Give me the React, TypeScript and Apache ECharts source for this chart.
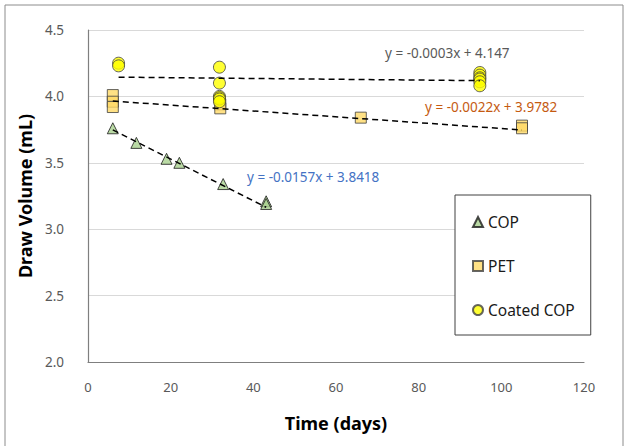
import React, { useEffect, useRef } from "react";
import * as echarts from "echarts";

const seriesNames = ["COP", "PET", "Coated COP"];

const copDays = [6, 11.7, 19, 22.1, 32.7, 43.1, 43.1];
const copVolume = [3.76, 3.65, 3.53, 3.5, 3.34, 3.21, 3.19];

const petDays = [6, 6, 6, 32, 32, 66, 105, 105];
const petVolume = [4.01, 3.96, 3.92, 3.94, 3.91, 3.84, 3.78, 3.76];

const coatedDays = [7.4, 7.4, 31.8, 31.8, 31.8, 31.8, 31.8, 31.8, 94.8, 94.8, 94.8, 94.8, 94.8, 94.8];
const coatedVolume = [4.25, 4.23, 4.22, 4.1, 4.0, 3.99, 3.98, 3.96, 4.18, 4.16, 4.14, 4.13, 4.11, 4.08];

// trendline equations shown on the chart: y = slope * x + intercept
const trendSlopes = [-0.0157, -0.0022, -0.0003];
const trendIntercepts = [3.8418, 3.9782, 4.147];
const trendLabels = ["y = -0.0157x + 3.8418", "y = -0.0022x + 3.9782", "y = -0.0003x + 4.147"];

const xTicks = [0, 20, 40, 60, 80, 100, 120];
const yTicks = [2.0, 2.5, 3.0, 3.5, 4.0, 4.5];

const FONT = "'Noto Sans', 'Open Sans', sans-serif";

function pairs(xs: number[], ys: number[]) {
  return xs.map((x, i) => [x, ys[i]]);
}

function trend(xs: number[], k: number) {
  const lo = Math.min(...xs);
  const hi = Math.max(...xs);
  return [
    [lo, trendSlopes[k] * lo + trendIntercepts[k]],
    [hi, trendSlopes[k] * hi + trendIntercepts[k]],
  ];
}

export default function App() {
  const ref = useRef<HTMLDivElement>(null);
  useEffect(() => {
    if (!ref.current) return;
    const chart = echarts.init(ref.current, undefined, { renderer: "svg" });
    const dashed = {
      type: "line",
      showSymbol: false,
      symbol: "none",
      silent: true,
      z: 5,
      lineStyle: { color: "#000", width: 1.5, type: [6, 4] },
    };
    chart.setOption({
      animation: false,
      backgroundColor: "#fff",
      textStyle: { fontFamily: FONT },
      grid: { left: 88, right: 45, top: 30, bottom: 84, containLabel: false },
      xAxis: {
        type: "value",
        min: xTicks[0],
        max: xTicks[xTicks.length - 1],
        interval: 20,
        name: "Time (days)",
        nameLocation: "middle",
        nameGap: 52,
        nameTextStyle: { fontFamily: FONT, fontSize: 18, fontWeight: "bold", color: "#000" },
        axisLine: { lineStyle: { color: "#7f7f7f", width: 1.2 } },
        axisTick: { show: false },
        splitLine: { show: false },
        axisLabel: { color: "#595959", fontSize: 13, margin: 18, fontFamily: FONT },
      },
      yAxis: {
        type: "value",
        min: yTicks[0],
        max: yTicks[yTicks.length - 1],
        interval: 0.5,
        name: "Draw Volume (mL)",
        nameLocation: "middle",
        nameGap: 49,
        nameTextStyle: { fontFamily: FONT, fontSize: 18, fontWeight: "bold", color: "#000" },
        axisLine: { show: true, lineStyle: { color: "#7f7f7f", width: 1.2 } },
        axisTick: { show: false },
        splitLine: { show: true, lineStyle: { color: "#d9d9d9", width: 1 } },
        axisLabel: {
          color: "#595959",
          fontSize: 13.5,
          margin: 24,
          fontFamily: FONT,
          formatter: (v: number) => v.toFixed(1),
        },
      },
      legend: {
        data: seriesNames,
        orient: "vertical",
        left: 455,
        top: 195,
        backgroundColor: "#fff",
        borderColor: "#404040",
        borderWidth: 1,
        padding: [19, 16, 17, 17],
        itemGap: 28,
        itemWidth: 10,
        itemHeight: 10,
        textStyle: { fontFamily: FONT, fontSize: 15.5, color: "#1a1a1a" },
      },
      graphic: [
        {
          type: "rect",
          shape: { x: 5, y: 5, width: 618, height: 450 },
          style: { fill: "none", stroke: "#8c8c8c", lineWidth: 1 },
          silent: true,
        },
        {
          type: "text",
          left: 247,
          top: 170,
          style: { text: trendLabels[0], fill: "#4472c4", fontSize: 13.5, fontFamily: FONT },
        },
        {
          type: "text",
          left: 425,
          top: 100,
          style: { text: trendLabels[1], fill: "#c55a11", fontSize: 13.5, fontFamily: FONT },
        },
        {
          type: "text",
          left: 385,
          top: 46,
          style: { text: trendLabels[2], fill: "#595959", fontSize: 13.5, fontFamily: FONT },
        },
      ],
      series: [
        {
          name: seriesNames[0],
          type: "scatter",
          symbol: "triangle",
          symbolSize: 11,
          data: pairs(copDays, copVolume),
          itemStyle: { color: "#a9d18e", borderColor: "#1a1a1a", borderWidth: 1 },
          z: 3,
        },
        {
          name: seriesNames[1],
          type: "scatter",
          symbol: "rect",
          symbolSize: 11,
          data: pairs(petDays, petVolume),
          itemStyle: { color: "#ffd966", borderColor: "#404040", borderWidth: 1 },
          z: 3,
        },
        {
          name: seriesNames[2],
          type: "scatter",
          symbol: "circle",
          symbolSize: 12,
          data: pairs(coatedDays, coatedVolume),
          itemStyle: { color: "#ffff00", borderColor: "#404040", borderWidth: 1 },
          z: 4,
        },
        { ...dashed, name: "COP trend", data: trend(copDays, 0) },
        { ...dashed, name: "PET trend", data: trend(petDays, 1) },
        { ...dashed, name: "Coated COP trend", data: trend(coatedDays, 2) },
      ],
    });
    return () => chart.dispose();
  }, []);
  return (
    <div
      ref={ref}
      style={{ position: "fixed", left: 0, top: 0, width: 629, height: 446, background: "#fff" }}
    />
  );
}
